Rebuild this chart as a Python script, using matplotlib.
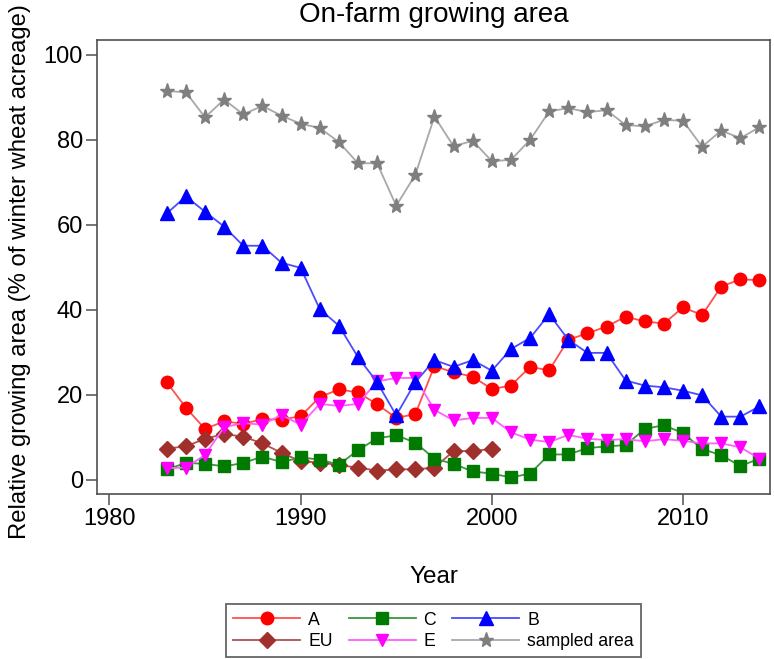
import matplotlib
matplotlib.use("Agg")
import matplotlib.pyplot as plt

plt.rcParams["font.family"] = ["Liberation Sans", "DejaVu Sans"]

# --- data ---
YEARS = list(range(1983, 2015))
EU_YEARS = list(range(1983, 2001))

A = [23, 17, 12, 13.8, 13.2, 14.3, 14.2, 15, 19.5, 21.3, 20.6, 17.8, 14.6, 15.5, 26.8, 25.3,
     24.3, 21.4, 22.2, 26.6, 25.8, 33, 34.5, 36.1, 38.4, 37.3, 36.8, 40.6, 38.8, 45.5, 47.2, 47]
C = [2.5, 4, 3.8, 3.2, 4, 5.5, 4.2, 5.3, 4.8, 3.6, 7, 9.8, 10.5, 8.8, 5, 3.8,
     2, 1.5, 0.6, 1.5, 6, 6, 7.5, 7.9, 8.2, 12, 12.9, 11, 7.3, 5.8, 3.3, 5]
B = [62.7, 66.7, 63.1, 59.6, 55.1, 55.1, 51.1, 49.9, 40.2, 36.3, 28.9, 23, 15.2, 23, 28.2, 26.6,
     28.2, 25.7, 30.8, 33.4, 39, 33, 29.9, 29.9, 23.4, 22.2, 21.8, 21, 19.9, 14.9, 14.9, 17.3]
EU = [7.4, 7.9, 9.7, 10.8, 10.2, 8.6, 6.4, 4.4, 4.1, 3.5, 2.9, 2.2, 2.5, 2.5, 2.9, 6.8, 6.8, 7.3]
E = [2.8, 2.9, 5.9, 12.4, 13.4, 13, 15.3, 13, 17.9, 17.4, 17.9, 23.2, 24, 24, 16.5, 14,
     14.6, 14.6, 11.2, 9.5, 8.9, 10.6, 9.7, 9.4, 9.6, 9.1, 9.6, 9.2, 8.6, 8.6, 7.7, 5]
SAMPLED = [91.5, 91.2, 85.3, 89.5, 86, 88, 85.7, 83.8, 82.8, 79.5, 74.5, 74.5, 64.5, 71.8, 85.5, 78.5,
           79.8, 75, 75.3, 80, 86.7, 87.5, 86.5, 87, 83.5, 83.2, 84.7, 84.5, 78.4, 82.2, 80.4, 83]

Y_TICKS = [0, 20, 40, 60, 80, 100]
X_TICKS = [1980, 1990, 2000, 2010]

W, H = 774, 659
AX_L, AX_R, AX_T, AX_B = 97, 770, 40, 494   # axes box in pixels
FRAME = "#505050"


def main():
    fig = plt.figure(figsize=(W / 100, H / 100), dpi=100)
    fig.patch.set_facecolor("white")
    ax = fig.add_axes([AX_L / W, 1 - AX_B / H, (AX_R - AX_L) / W, (AX_B - AX_T) / H])

    # (label, x, y, marker, line colour, marker colour, size)
    series = [
        ("A", YEARS, A, "o", "#ff5050", "#ff0000", 9),
        ("EU", EU_YEARS, EU, "D", "#b05050", "#a0302c", 8),
        ("C", YEARS, C, "s", "#3c963c", "#007a00", 8.5),
        ("E", YEARS, E, "v", "#ff60ff", "#ff00ff", 9),
        ("B", YEARS, B, "^", "#4c4cff", "#0000ff", 9.5),
        ("sampled area", YEARS, SAMPLED, "*", "#a8a8a8", "#7f7f7f", 11),
    ]
    handles = []
    for lbl, xs, ys, mk, lc, mc, ms in series:
        h, = ax.plot(xs, ys, color=lc, lw=1.3, marker=mk, ms=ms,
                     markerfacecolor=mc, markeredgecolor=mc, label=lbl)
        handles.append(h)

    ax.set_xlim(1979.35, 2014.55)
    ax.set_ylim(-3.3, 103.5)
    ax.set_xticks(X_TICKS)
    ax.set_yticks(Y_TICKS)
    ax.tick_params(axis="both", length=8, width=1.1, color=FRAME, labelsize=17, pad=2)
    for sp in ax.spines.values():
        sp.set_color(FRAME)
        sp.set_linewidth(1.2)

    cx = (AX_L + AX_R) / 2 / W
    fig.text(cx, 1 - 15 / H, "On-farm growing area", ha="center", va="center", fontsize=20)
    fig.text(20 / W, 1 - 272 / H, "Relative growing area (% of winter wheat acreage)",
             rotation=90, ha="center", va="center", fontsize=17.2)
    fig.text(cx, 1 - 577 / H, "Year", ha="center", va="center", fontsize=17.5)

    leg = fig.legend(handles=handles, loc="lower center", bbox_to_anchor=(cx, 2 / H),
                     ncol=3, fontsize=12.7, frameon=True, fancybox=False,
                     handlelength=3.8, handletextpad=0.45, columnspacing=0.9,
                     labelspacing=0.25, borderpad=0.4, borderaxespad=0)
    leg.get_frame().set_edgecolor("#404040")
    leg.get_frame().set_linewidth(1.3)

    fig.savefig("out.png", dpi=100, facecolor="white")


if __name__ == "__main__":
    main()
